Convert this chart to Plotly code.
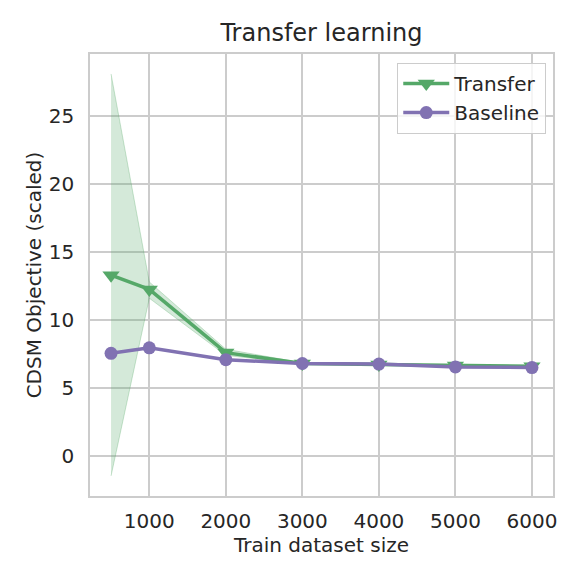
import plotly.graph_objects as go

train_size = [500, 1000, 2000, 3000, 4000, 5000, 6000]

transfer_mean = [13.3, 12.25, 7.6, 6.8, 6.72, 6.65, 6.6]
transfer_low = [-1.47, 11.6, 7.4, 6.75, 6.68, 6.6, 6.55]
transfer_high = [28.1, 12.8, 7.85, 6.85, 6.76, 6.7, 6.65]

baseline_mean = [7.55, 7.95, 7.08, 6.8, 6.76, 6.55, 6.5]

green = "#55a868"
purple = "#8172b2"
grid = "#cccccc"
text_color = "#262626"
font = "DejaVu Sans"

fig = go.Figure()

# spread of transfer runs
fig.add_trace(go.Scatter(
    x=train_size + train_size[::-1],
    y=transfer_high + transfer_low[::-1],
    mode="lines", fill="toself", fillcolor="rgba(85,168,104,0.25)",
    line=dict(color="rgba(85,168,104,0.3)", width=1),
    hoverinfo="skip", showlegend=False,
))

fig.add_trace(go.Scatter(
    x=train_size, y=transfer_mean, name="Transfer",
    mode="lines+markers",
    line=dict(color=green, width=3.5),
    marker=dict(symbol="triangle-down", size=15, color=green),
))

fig.add_trace(go.Scatter(
    x=train_size, y=baseline_mean, name="Baseline",
    mode="lines+markers",
    line=dict(color=purple, width=3.5),
    marker=dict(symbol="circle", size=13, color=purple),
))

axis_style = dict(
    showgrid=True, gridcolor=grid, gridwidth=1.5,
    showline=True, linecolor=grid, linewidth=1.5, mirror=True,
    zeroline=False, ticks="outside", tickcolor="rgba(0,0,0,0)",
    tickfont=dict(size=20, color=text_color),
)

fig.update_xaxes(
    range=[225, 6275], tickvals=[1000, 2000, 3000, 4000, 5000, 6000], ticklen=6,
    title=dict(text="Train dataset size", font=dict(size=20, color=text_color), standoff=4),
    **axis_style,
)
fig.update_yaxes(
    range=[-2.95, 29.57], tickvals=[0, 5, 10, 15, 20, 25], ticklen=10,
    title=dict(text="CDSM Objective (scaled)", font=dict(size=20, color=text_color), standoff=2),
    **axis_style,
)

fig.update_layout(
    width=581, height=581,
    margin=dict(l=82, r=36, t=46, b=93),
    paper_bgcolor="white", plot_bgcolor="white",
    font=dict(family=font, color=text_color),
    title=dict(text="Transfer learning", x=0.5, xanchor="center", xref="paper",
               y=1 - 25 / 581, yanchor="middle", font=dict(size=24, color=text_color)),
    legend=dict(
        x=0.985, y=0.98, xanchor="right", yanchor="top",
        bgcolor="rgba(255,255,255,0.8)", bordercolor=grid, borderwidth=1.2,
        font=dict(size=20, color=text_color), itemwidth=46, tracegroupgap=0,
    ),
)

fig.write_html("out.html")
